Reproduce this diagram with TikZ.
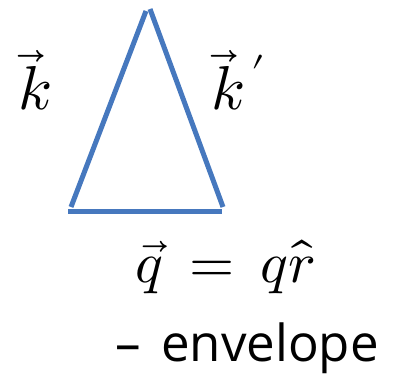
\documentclass[tikz,border=0pt]{standalone}
\usepackage{fontspec}
\usepackage{unicode-math}
\setmathfont{Latin Modern Math}
\newfontfamily\envfont{Open Sans}
\definecolor{triblue}{RGB}{70,120,190}
\tikzset{
  side/.style={draw=triblue, line width=5pt},
  bigmath/.style={inner sep=0pt, anchor=base west, font=\fontsize{62}{62}\selectfont},
  eqmath/.style={inner sep=0pt, anchor=base west, font=\fontsize{58}{58}\selectfont},
  envtext/.style={inner sep=0pt, anchor=base west, font=\envfont\fontsize{51}{51}\selectfont}
}
\begin{document}
\begin{tikzpicture}[x=1pt,y=-1pt]
\useasboundingbox (0,0) rectangle (394,374);
\coordinate (bl) at (71,207);
\coordinate (tl) at (146,11);
\coordinate (tr) at (150,9);
\coordinate (br) at (223,207);
\coordinate (bbl) at (68,212);
\coordinate (bbr) at (222,212);
\draw[side] (bl) -- (tl);
\draw[side] (tr) -- (br);
\draw[side] (bbl) -- (bbr);
\node[bigmath] (k) at (18,110) {$\overrightarrow{k}$};
\node[bigmath] (kp) at (211,110) {$\overrightarrow{k}\mkern2mu'$};
\node[eqmath] (q) at (135,283) {$\vec{q}\hspace{10pt} = \hspace{10pt}q\hat{r}$};
\node[envtext] (dash) at (115,362) {–};
\node[envtext] (env) at (161,362) {envelope};
\end{tikzpicture}
\end{document}
